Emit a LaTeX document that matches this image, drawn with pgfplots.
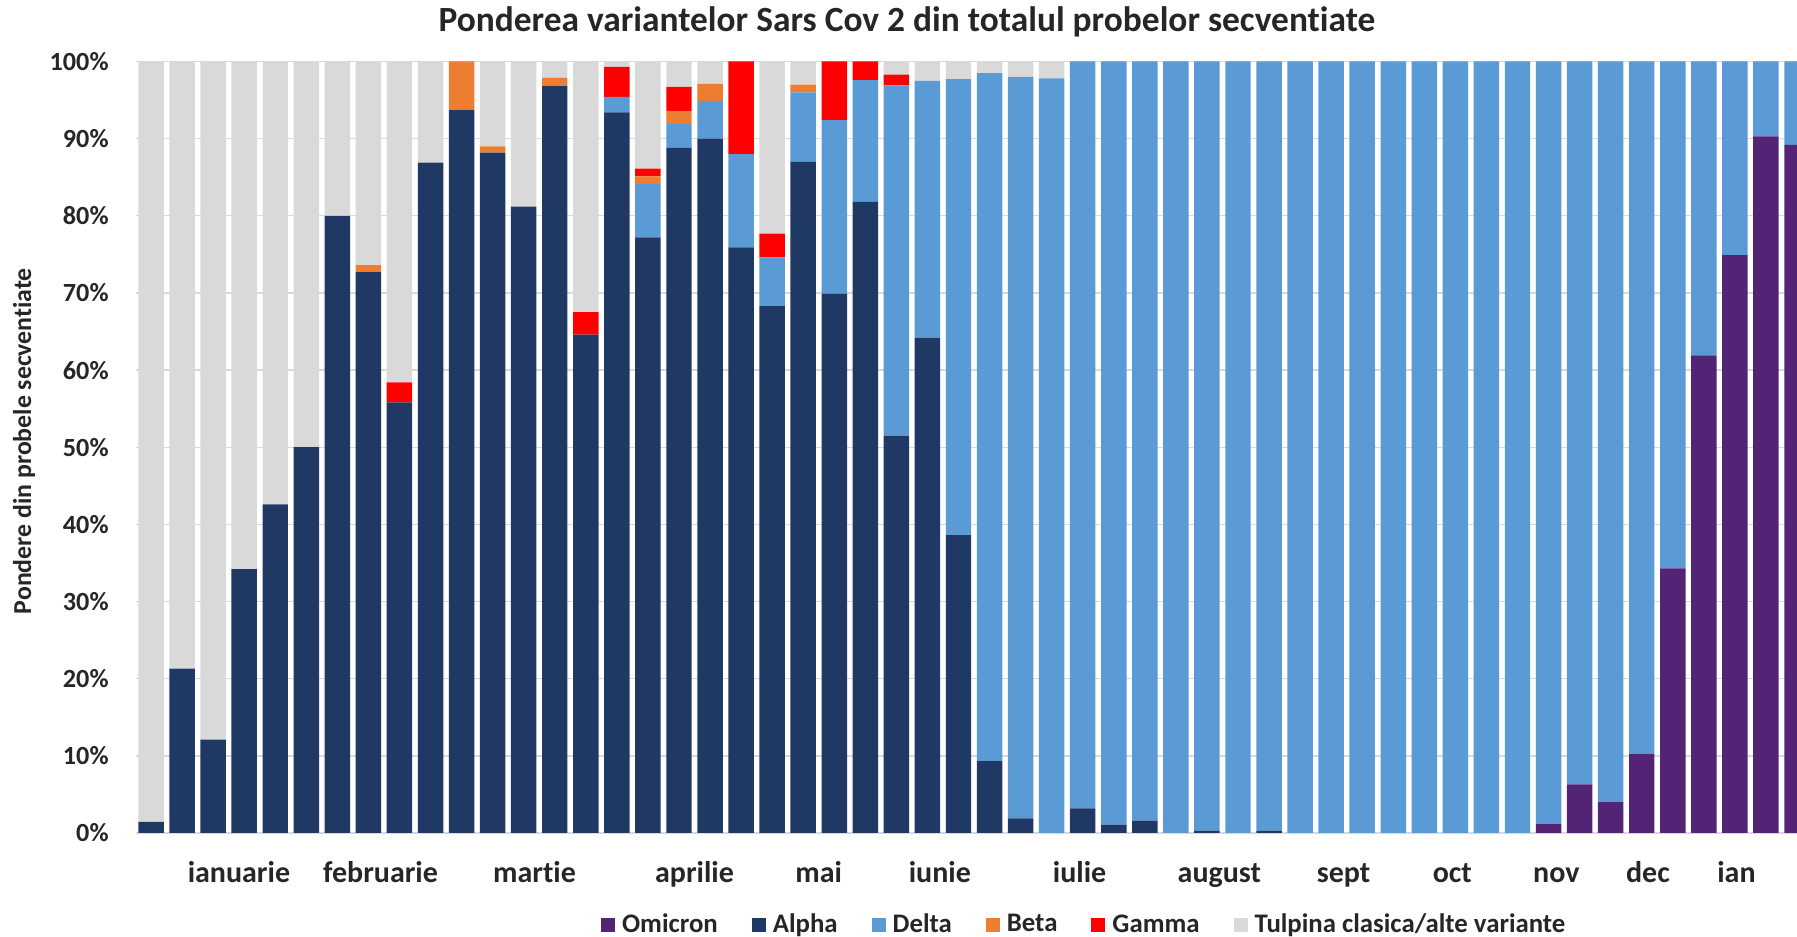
\documentclass[border=0pt]{standalone}
\usepackage{pgfplots}
\pgfplotsset{compat=1.18}
\usepackage{pgfplotstable}
\usepackage{fontspec}
\setmainfont{Carlito}[Ligatures=NoCommon]
\definecolor{omi}{HTML}{532476}
\definecolor{alp}{HTML}{203864}
\definecolor{del}{HTML}{5B9BD5}
\definecolor{bet}{HTML}{ED7D31}
\definecolor{gam}{HTML}{FF0000}
\definecolor{tul}{HTML}{D9D9D9}
\definecolor{gridc}{HTML}{D9D9D9}
\definecolor{txt}{HTML}{262626}

\pgfplotstableread{
x om al de be ga tu
0 0 1.45 0 0 0 98.55
1 0 21.3 0 0 0 78.7
2 0 12.1 0 0 0 87.9
3 0 34.2 0 0 0 65.8
4 0 42.6 0 0 0 57.4
5 0 50.0 0 0 0 50.0
6 0 80.0 0 0 0 20.0
7 0 72.7 0 0.9 0 26.4
8 0 55.8 0 0 2.6 41.6
9 0 86.9 0 0 0 13.1
10 0 93.7 0 6.3 0 0
11 0 88.2 0 0.8 0 11.0
12 0 81.2 0 0 0 18.8
13 0 96.8 0 1.1 0 2.1
14 0 64.6 0 0 2.9 32.5
15 0 93.4 2.0 0 3.9 0.7
16 0 77.2 6.9 1.0 1.0 13.9
17 0 88.8 3.1 1.7 3.1 3.3
18 0 90.0 4.9 2.2 0 2.9
19 0 75.9 12.1 0 12.0 0
20 0 68.3 6.3 0 3.1 22.3
21 0 87.0 9.0 1.0 0 3.0
22 0 69.9 22.5 0 7.6 0
23 0 81.8 15.8 0 2.4 0
24 0 51.5 45.4 0 1.4 1.7
25 0 64.2 33.3 0 0 2.5
26 0 38.6 59.1 0 0 2.3
27 0 9.3 89.2 0 0 1.5
28 0 1.9 96.1 0 0 2.0
29 0 0 97.8 0 0 2.2
30 0 3.2 96.8 0 0 0
31 0 1.1 98.9 0 0 0
32 0 1.6 98.4 0 0 0
33 0 0 100 0 0 0
34 0 0.3 99.7 0 0 0
35 0 0 100 0 0 0
36 0 0.3 99.7 0 0 0
37 0 0 100 0 0 0
38 0 0 100 0 0 0
39 0 0 100 0 0 0
40 0 0 100 0 0 0
41 0 0 100 0 0 0
42 0 0 100 0 0 0
43 0 0 100 0 0 0
44 0 0 100 0 0 0
45 1.2 0 98.8 0 0 0
46 6.3 0 93.7 0 0 0
47 4.0 0 96.0 0 0 0
48 10.3 0 89.7 0 0 0
49 34.3 0 65.7 0 0 0
50 61.9 0 38.1 0 0 0
51 74.9 0 25.1 0 0 0
52 90.3 0 9.7 0 0 0
53 89.2 0 10.8 0 0 0
}\data

\begin{document}
\begin{tikzpicture}
\path[use as bounding box] (0,0) rectangle (898.5pt,468pt);
\clip (0,0) rectangle (898.5pt,468pt);
\begin{axis}[
  at={(67.75pt,51.5pt)}, anchor=south west,
  scale only axis, width=830.75pt, height=385.75pt,
  xmin=-0.5, xmax=53, ymin=0, ymax=100,
  ybar stacked, bar width=0.82,
  axis line style={draw=none},
  ymajorgrids, grid style={color=gridc, line width=0.7pt},
  major tick length=0pt,
  ytick={0,10,20,30,40,50,60,70,80,90,100},
  yticklabels={0\%,10\%,20\%,30\%,40\%,50\%,60\%,70\%,80\%,90\%,100\%},
  yticklabel style={anchor=east, inner sep=0pt, xshift=-13.25pt, font=\fontsize{13.1}{15}\selectfont\bfseries, text=txt},
  xtick={2.83,7.39,12.35,17.5,21.5,25.4,29.9,34.4,38.4,41.9,45.25,48.2,51.05},
  xticklabels={ianuarie,februarie,martie,aprilie,mai,iunie,iulie,august,sept,oct,nov,dec,ian},
  xticklabel style={anchor=base, inner sep=0pt, yshift=-24.5pt, font=\fontsize{15}{17}\selectfont\bfseries, text=txt},
  title={Ponderea variantelor Sars Cov 2 din totalul probelor secventiate},
  every axis title/.style={at={(axis description cs:0.4643,1.0386)}, anchor=base, font=\fontsize{17.7}{20}\selectfont\bfseries, text=txt},
  ylabel={Pondere din probele secventiate},
  every axis y label/.style={at={(axis description cs:-0.0671,0.508)}, rotate=90, anchor=center, font=\fontsize{12.9}{15}\selectfont\bfseries, text=txt},
  legend columns=6,
  legend image code/.code={\fill[#1] (0pt,-3.5pt) rectangle (7pt,3.5pt);},
  legend style={at={(axis description cs:0.28,-0.1189)}, anchor=west, draw=none, fill=none,
    font=\fontsize{13.4}{15}\selectfont\bfseries, text=txt, inner sep=0pt,
    nodes={inner sep=0pt},
    /tikz/every odd column/.append style={column sep=3.5pt},
    /tikz/every even column/.append style={column sep=17pt}},
]
\addplot[fill=omi, draw=none] table[x=x, y=om] {\data};
\addlegendentry{Omicron}
\addplot[fill=alp, draw=none] table[x=x, y=al] {\data};
\addlegendentry{Alpha}
\addplot[fill=del, draw=none] table[x=x, y=de] {\data};
\addlegendentry{Delta}
\addplot[fill=bet, draw=none] table[x=x, y=be] {\data};
\addlegendentry{Beta}
\addplot[fill=gam, draw=none] table[x=x, y=ga] {\data};
\addlegendentry{Gamma}
\addplot[fill=tul, draw=none] table[x=x, y=tu] {\data};
\addlegendentry{Tulpina clasica/alte variante}
\end{axis}
\end{tikzpicture}
\end{document}
